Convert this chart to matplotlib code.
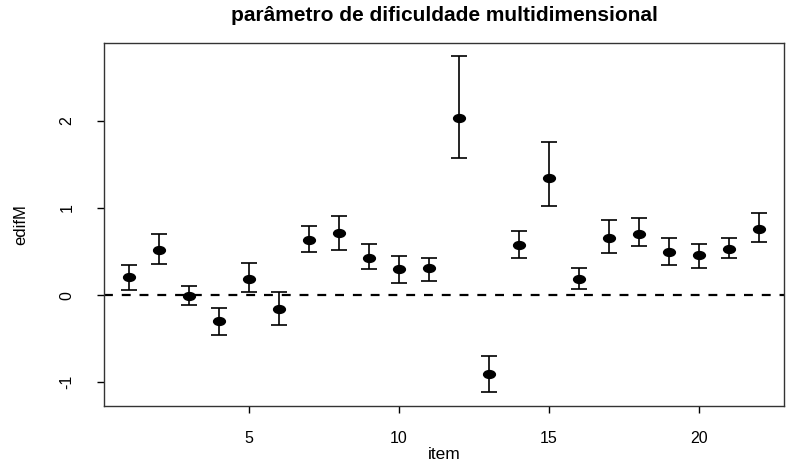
import numpy as np
import matplotlib
matplotlib.use("Agg")
import matplotlib.pyplot as plt
from matplotlib.path import Path
from matplotlib.transforms import Affine2D, blended_transform_factory

plt.rcParams['font.family'] = ['Liberation Sans', 'DejaVu Sans']

items = list(range(1, 23))
edifM = [0.21, 0.52, -0.01, -0.30, 0.18, -0.16, 0.63, 0.71, 0.42, 0.30, 0.31,
         2.03, -0.91, 0.57, 1.34, 0.18, 0.66, 0.70, 0.50, 0.455, 0.53, 0.755]
upper = [0.34, 0.70, 0.10, -0.15, 0.37, 0.03, 0.79, 0.91, 0.59, 0.45, 0.425,
         2.74, -0.70, 0.735, 1.76, 0.31, 0.86, 0.88, 0.65, 0.59, 0.66, 0.946]
lower = [0.06, 0.36, -0.11, -0.46, 0.04, -0.345, 0.49, 0.52, 0.30, 0.14, 0.16,
         1.575, -1.115, 0.42, 1.02, 0.07, 0.48, 0.56, 0.345, 0.31, 0.425, 0.605]

y = np.array(edifM)
yerr = [y - np.array(lower), np.array(upper) - y]

# slightly wide dot, as in the R device output
dot = Path.unit_circle().transformed(Affine2D().scale(1.5, 1.0))

fig = plt.figure(figsize=(7.86, 4.61), dpi=100)
ax = fig.add_axes([0.132, 0.12, 0.8657, 0.787])

ax.axhline(0, color='black', lw=1.6, linestyle=(0, (4, 4)), zorder=1)
ax.errorbar(items, y, yerr=yerr, fmt='none', ecolor='black', elinewidth=1.2,
            capsize=6, capthick=1.2, zorder=2)
ax.plot(items, y, linestyle='none', marker=dot, markersize=8.5,
        color='black', zorder=3)

# R-style 4% padding around the data range
lo, hi = min(lower), max(upper)
pad = 0.04 * (hi - lo)
ax.set_ylim(lo - pad, hi + pad)
ax.set_xlim(1 - 0.04 * 21, 22 + 0.04 * 21)

ax.set_xticks([5, 10, 15, 20])
ax.set_yticks([-1, 0, 1, 2])
ax.set_yticklabels(['-1', '0', '1', '2'], rotation=90, va='center')
ax.tick_params(direction='out', length=5, width=1, labelsize=11.5)
ax.tick_params(axis='x', pad=13)
ax.tick_params(axis='y', pad=16)

for s in ax.spines.values():
    s.set_linewidth(1)
    s.set_color('#333333')

ax.set_xlabel('item', fontsize=12.5, va='center')
ax.xaxis.set_label_coords(0.5, -0.135)
ax.set_ylabel('edifM', fontsize=12, va='center')
ax.yaxis.set_label_coords(-0.122, 0.5)

# title centred over the plot region
trans = blended_transform_factory(ax.transAxes, fig.transFigure)
ax.text(0.5, 0.966, 'parâmetro de dificuldade multidimensional',
        transform=trans, ha='center', va='center', fontsize=15,
        fontweight='bold')

fig.savefig('out.png', dpi=100)
